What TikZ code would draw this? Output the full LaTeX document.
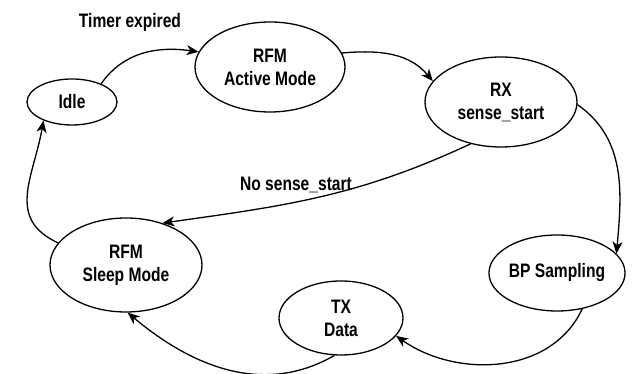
\documentclass[tikz,border=0pt]{standalone}
\usepackage{fontspec}
\setmainfont{Liberation Sans}[FakeStretch=0.8]
\usetikzlibrary{shapes.geometric,arrows.meta}
\begin{document}
\begin{tikzpicture}[x=1pt,y=1pt,
  state/.style={draw,ellipse,line width=1.3pt,inner sep=0pt,align=center,font=\fontsize{19.5}{23}\selectfont\bfseries},
  lbl/.style={font=\fontsize{19.5}{23}\selectfont\bfseries},
  tr/.style={line width=1.3pt,-{Stealth[length=12pt,width=10pt,inset=3.5pt]}}]
\useasboundingbox (0,0) rectangle (640,374);
\node[state,minimum width=90pt,minimum height=46pt] (idle) at (72,272) {Idle};
\node[state,minimum width=150pt,minimum height=90pt] (active) at (270,307) {RFM\\Active Mode};
\node[state,minimum width=152pt,minimum height=90pt] (rx) at (501,272) {RX\\sense\_start};
\node[state,minimum width=134pt,minimum height=76pt] (bp) at (557,101) {BP Sampling};
\node[state,minimum width=124pt,minimum height=74pt] (tx) at (341,56) {TX\\Data};
\node[state,minimum width=152pt,minimum height=94pt] (sleep) at (126,109) {RFM\\Sleep Mode};
\node[lbl] (timer) at (130,352) {Timer expired};
\node[lbl] (nosense) at (296,189) {No sense\_start};
\draw[tr] (idle.32) to[out=55,in=172] (active.168);
\draw[tr] (active.11) to[out=5,in=130] (rx.163);
\draw[tr] (rx.-2) to[out=-35,in=85] (bp.18);
\draw[tr] (bp.-55) to[out=-115,in=-35] (tx.-18);
\draw[tr] (tx.-100) to[out=-150,in=-40] (sleep.-88);
\draw[tr] (rx.-126) to[out=-155,in=8] (sleep.49);
\draw[tr] (sleep.162) to[out=155,in=-100,looseness=1.2] (idle.-147);
\end{tikzpicture}
\end{document}
